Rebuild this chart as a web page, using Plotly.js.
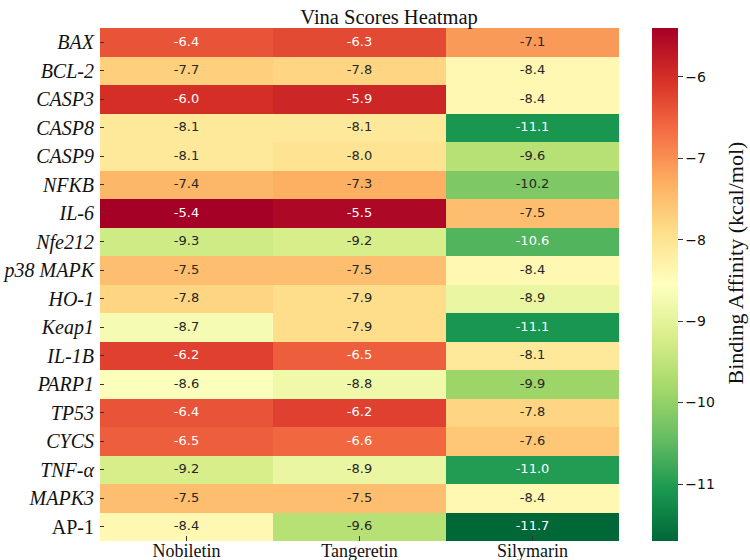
<!DOCTYPE html>
<html>
<head>
<meta charset="utf-8">
<script src="https://cdn.plot.ly/plotly-3.0.1.min.js"></script>
<style>html,body{margin:0;padding:0;background:#fff;}#chart{width:750px;height:560px;}</style>
</head>
<body>
<div id="chart"></div>
<script>
const compounds = ["Nobiletin", "Tangeretin", "Silymarin"];
const targets = ["BAX", "BCL-2", "CASP3", "CASP8", "CASP9", "NFKB", "IL-6", "Nfe212", "p38 MAPK", "HO-1", "Keap1", "IL-1B", "PARP1", "TP53", "CYCS", "TNF-α", "MAPK3", "AP-1"];
const italicTargets = [true, true, true, true, true, true, true, true, true, true, true, true, true, true, true, true, true, false];
const nobiletin  = [-6.4, -7.7, -6.0, -8.1, -8.1, -7.4, -5.4, -9.3, -7.5, -7.8, -8.7, -6.2, -8.6, -6.4, -6.5, -9.2, -7.5, -8.4];
const tangeretin = [-6.3, -7.8, -5.9, -8.1, -8.0, -7.3, -5.5, -9.2, -7.5, -7.9, -7.9, -6.5, -8.8, -6.2, -6.6, -8.9, -7.5, -9.6];
const silymarin  = [-7.1, -8.4, -8.4, -11.1, -9.6, -10.2, -7.5, -10.6, -8.4, -8.9, -11.1, -8.1, -9.9, -7.8, -7.6, -11.0, -8.4, -11.7];
const cbTicks = [-6, -7, -8, -9, -10, -11];

const series = [nobiletin, tangeretin, silymarin];
const z = targets.map((t, i) => series.map(s => s[i]));
const tickLabels = targets.map((t, i) => italicTargets[i] ? "<i>" + t + "</i>" : t);

const rdylgn = ["#a50026", "#d73027", "#f46d43", "#fdae61", "#fee08b", "#ffffbf", "#d9ef8b", "#a6d96a", "#66bd63", "#1a9850", "#006837"];
const cs = rdylgn.slice().reverse().map((c, i, a) => [i / (a.length - 1), c]);

// per-cell text labels (light text on dark cells)
const tx = [], ty = [], tt = [], tc = [];
targets.forEach((t, i) => {
  compounds.forEach((c, j) => {
    const v = series[j][i];
    tx.push(c); ty.push(t); tt.push(v.toFixed(1));
    tc.push((v > -6.8 || v < -10.4) ? "#ffffff" : "#262626");
  });
});

const serif = "Liberation Serif, Times New Roman, serif";
const sans = "DejaVu Sans, sans-serif";

Plotly.newPlot("chart", [{
  type: "heatmap",
  z: z,
  x: compounds,
  y: targets,
  colorscale: cs,
  zmin: -11.7,
  zmax: -5.4,
  hoverinfo: "skip",
  colorbar: {
    x: 1.0636, xanchor: "left", xpad: 0,
    y: 0.5, yanchor: "middle", ypad: 0, len: 1,
    thickness: 26, outlinewidth: 0,
    tickvals: cbTicks,
    ticks: "outside", ticklen: 5, tickcolor: "#333", tickwidth: 1,
    tickfont: {family: sans, size: 14, color: "#111"}
  }
}, {
  type: "scatter",
  mode: "text",
  x: tx, y: ty, text: tt,
  textposition: "middle center",
  textfont: {family: sans, size: 13, color: tc},
  hoverinfo: "skip",
  showlegend: false,
  cliponaxis: false
}], {
  width: 750, height: 560,
  margin: {l: 100, r: 131, t: 28, b: 19},
  paper_bgcolor: "#fff", plot_bgcolor: "#fff",
  showlegend: false,
  title: {text: "Vina Scores Heatmap", x: 0.557, xref: "paper", xanchor: "center", y: 1, yref: "paper", yanchor: "bottom", pad: {b: 4}, font: {family: serif, size: 20.5, color: "#111"}},
  xaxis: {
    range: [-0.5, compounds.length - 0.5], autorange: false,
    tickfont: {family: serif, size: 18, color: "#111"},
    ticks: "inside", ticklen: 5, tickcolor: "#333", showgrid: false, zeroline: false, showline: false,
    ticklabelstandoff: -3
  },
  yaxis: {
    range: [targets.length - 0.5, -0.5], autorange: false,
    tickmode: "array", tickvals: targets, ticktext: tickLabels,
    tickfont: {family: serif, size: 20, color: "#111"},
    ticks: "inside", ticklen: 4, tickcolor: "#333", showgrid: false, zeroline: false, showline: false,
    ticklabelstandoff: 5
  },
  annotations: [{
    text: "Binding Affinity (kcal/mol)", textangle: -90,
    xref: "paper", yref: "paper", x: 1.2235, y: 0.543, xanchor: "center", yanchor: "middle",
    showarrow: false, font: {family: serif, size: 22, color: "#111"}
  }]
}, {displayModeBar: false, staticPlot: true});
</script>
</body>
</html>
